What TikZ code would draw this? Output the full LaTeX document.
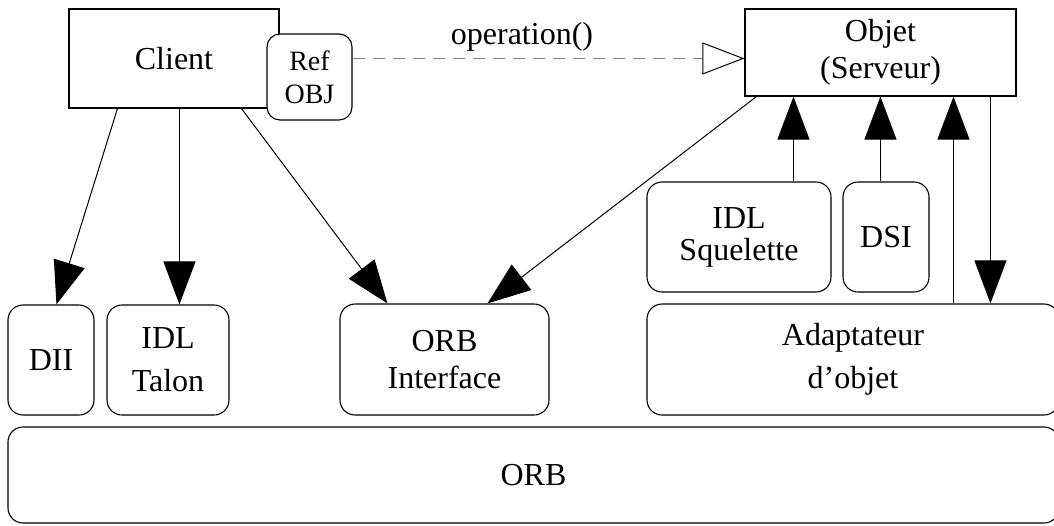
\documentclass[tikz,border=0pt]{standalone}
\usepackage{fontspec}
\setmainfont{Liberation Serif}
\usetikzlibrary{arrows.meta,calc}
\tikzset{
  base/.style={draw, line width=0.55pt, inner sep=0pt, align=center, fill=white,
    font=\fontsize{16}{18}\selectfont},
  sqbox/.style={base, rectangle},
  rbox/.style={base, rectangle, rounded corners=7.5pt},
  conn/.style={line width=0.5pt, -{Triangle[length=21.5pt,width=16pt]}},
  dashconn/.style={line width=0.9pt, draw={rgb,255:red,128;green,128;blue,128},
    dash pattern=on 6pt off 4pt,
    -{Triangle[open,length=21pt,width=16pt,color=black,line width=0.5pt]}},
  lbl/.style={inner sep=0pt, font=\fontsize{16}{18}\selectfont}
}
\begin{document}
\begin{tikzpicture}[x=0.5pt,y=-0.5pt]
\useasboundingbox (0,0) rectangle (1054,525);
% top boxes
\node[sqbox, minimum width=105pt, minimum height=49.5pt] (client) at (174,58.5) {Client};
\node[rbox, rounded corners=6.5pt, minimum width=42.5pt, minimum height=43pt,
  font=\fontsize{14}{16.5}\selectfont] (ref) at (309.5,77) {Ref\\OBJ};
\node[sqbox, minimum width=135.5pt, minimum height=43.5pt, font=\fontsize{16}{18.5}\selectfont] (objet) at (880.5,52.5) {Objet\\(Serveur)};
% middle boxes
\node[rbox, minimum width=92pt, minimum height=55pt, font=\fontsize{16}{16}\selectfont] (squel) at (739,237) {IDL\\Squelette};
\node[rbox, minimum width=43pt, minimum height=55pt] (dsi) at (886,237) {DSI};
% lower boxes
\node[rbox, minimum width=43pt, minimum height=55pt] (dii) at (51,360) {DII};
\node[rbox, minimum width=61pt, minimum height=55pt, font=\fontsize{16}{21.5}\selectfont] (talon) at (168,360) {IDL\\Talon};
\node[rbox, minimum width=104.5pt, minimum height=55.5pt, font=\fontsize{16}{18.5}\selectfont] (orbi) at (444.5,359.5) {ORB\\Interface};
\node[rbox, minimum width=206pt, minimum height=55.5pt, font=\fontsize{16}{21.5}\selectfont] (adapt) at (853,359.5) {Adaptateur\\d’objet};
\node[rbox, minimum width=525.5pt, minimum height=48pt] (orb) at (533.5,475) {ORB};
% label
\node[lbl] (op) at (522,37) {operation()};
% connectors
\draw[conn] ($(client.south west)+(49,0)$) -- ($(dii.north west)+(49,0)$);
\draw[conn] ($(client.south west)+(111,0)$) -- ($(talon.north west)+(73,0)$);
\draw[conn] ($(client.south west)+(173,0)$) -- ($(orbi.north west)+(48,0)$);
\draw[conn] ($(objet.south west)+(12,0)$) -- ($(orbi.north west)+(148,0)$);
\draw[conn] ($(squel.north west)+(147,0)$) -- ($(objet.south west)+(49,0)$);
\draw[conn] ($(dsi.north west)+(38,0)$) -- ($(objet.south west)+(136,0)$);
\draw[conn] ($(adapt.north west)+(307,0)$) -- ($(objet.south west)+(209,0)$);
\draw[conn] ($(objet.south west)+(246,0)$) -- ($(adapt.north west)+(344,0)$);
\coordinate (d1) at ($(ref.north east)+(0,25)$);
\draw[dashconn] (d1) -- (d1 -| objet.west);
\end{tikzpicture}
\end{document}
